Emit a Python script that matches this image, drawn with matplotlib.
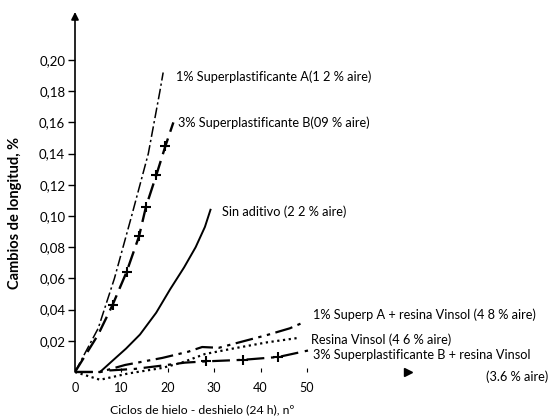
import matplotlib
matplotlib.use("Agg")
import matplotlib.pyplot as plt

plt.rcParams['font.family'] = ['Lato', 'DejaVu Sans']

# ---- data ----
a_x = [0, 5, 8.5, 12.2, 15.8, 18.3, 19.0]
a_y = [0, 0.028, 0.060, 0.100, 0.140, 0.180, 0.192]

b_x = [0, 5, 8.1, 11.1, 13.8, 15.3, 17.5, 19.5, 21.2]
b_y = [0, 0.024, 0.043, 0.064, 0.087, 0.106, 0.126, 0.145, 0.160]
b_marks = [2, 3, 4, 5, 6, 7]

sin_x = [5.4, 8, 11, 14, 17.5, 20.5, 23.5, 26, 28, 29.2]
sin_y = [0, 0.007, 0.015, 0.024, 0.038, 0.053, 0.067, 0.080, 0.093, 0.104]

ar_x = [0, 5.4, 10.8, 18.8, 24.4, 27.4, 31.0, 34.9, 41.4, 46.3, 49.4]
ar_y = [0, 0, 0.0045, 0.009, 0.013, 0.016, 0.0155, 0.0186, 0.0237, 0.028, 0.032]

res_x = [0, 5.4, 11.4, 18.8, 23, 28, 34, 41.4, 48.5]
res_y = [0, -0.005, -0.001, 0.0026, 0.006, 0.0115, 0.015, 0.019, 0.022]

br_x = [0, 5.4, 7.5, 13, 18.5, 23.7, 28.2, 36.2, 43.8, 50.6]
br_y = [0, 0, 0.001, 0.002, 0.004, 0.006, 0.0068, 0.0078, 0.0096, 0.014]
br_marks = [6, 7, 8]

yticks = [0.02, 0.04, 0.06, 0.08, 0.10, 0.12, 0.14, 0.16, 0.18, 0.20]
ytick_labels = ['0,02', '0,04', '0,06', '0,08', '0,10', '0,12', '0,14', '0,16', '0,18', '0,20']
xticks = [0, 10, 20, 30, 40, 50]
xtick_labels = ['0', '10', '20', '30', '40', '50']

labels = [
    "1% Superplastificante A(1 2 % aire)",
    "3% Superplastificante B(09 % aire)",
    "Sin aditivo (2 2 % aire)",
    "1% Superp A + resina Vinsol (4 8 % aire)",
    "Resina Vinsol (4 6 % aire)",
    "3% Superplastificante B + resina Vinsol",
    "(3.6 % aire)",
]

W, H = 555, 418
fig = plt.figure(figsize=(W / 100, H / 100), dpi=100)
fig.patch.set_facecolor('white')
ax = fig.add_axes([75 / W, (H - 390.7) / H, 348 / W, 380.6 / H])
ax.set_xlim(0, 75)
ax.set_ylim(-0.012, 0.232)
for s in ['top', 'right', 'left']:
    ax.spines[s].set_visible(False)
ax.spines['bottom'].set_position(('data', 0))
ax.spines['bottom'].set_visible(False)

k = 'black'
ax.plot(a_x, a_y, color=k, lw=1.1, dashes=(7, 2, 1.5, 2))
ax.plot(b_x, b_y, color=k, lw=1.7, dashes=(7, 3), marker='+', ms=6.5, mew=1.5,
        markevery=b_marks)
ax.plot(sin_x, sin_y, color=k, lw=1.4)
ax.plot(ar_x, ar_y, color=k, lw=1.6, dashes=(8, 2.5, 1.5, 2.5, 1.5, 2.5))
ax.plot(res_x, res_y, color=k, lw=1.6, dashes=(1, 1.6))
ax.plot(br_x, br_y, color=k, lw=1.6, dashes=(8, 3, 1.5, 3), marker='+', ms=6.5,
        mew=1.5, markevery=br_marks)

# y axis arrow
ax.annotate('', xy=(0, 0.2308), xytext=(0, 0), annotation_clip=False,
            arrowprops=dict(arrowstyle='-|>', lw=1.2, color=k, mutation_scale=11,
                            shrinkA=0, shrinkB=0))
# x axis arrow head
ax.plot([71.8], [0], marker='>', ms=6, color=k, clip_on=False)

ax.set_yticks(yticks)
ax.set_yticklabels(ytick_labels)
ax.set_xticks(xticks)
ax.set_xticklabels(xtick_labels)
ax.tick_params(axis='y', direction='out', length=5, width=1, pad=2, labelsize=9.5)
ax.tick_params(axis='x', direction='in', length=3, width=0.8, pad=7, labelsize=9)

def px(x, y):
    return x / W, 1 - y / H

fs = 9.2
pos = [(176, 77), (178, 123), (222, 212), (313, 315), (311, 340), (313, 355)]
for (x, y), s in zip(pos, labels[:6]):
    fig.text(*px(x, y), s, ha='left', va='center', fontsize=fs)
fig.text(*px(548, 377), labels[6], ha='right', va='center', fontsize=fs)

fig.text(*px(15, 213), "Cambios de longitud, %", rotation=90, ha='center',
         va='center', fontsize=10.5, fontweight='bold')
fig.text(*px(202, 410), "Ciclos de hielo - deshielo (24 h), nº", ha='center',
         va='center', fontsize=8.8)

fig.savefig('out.png', dpi=100, facecolor='white')
